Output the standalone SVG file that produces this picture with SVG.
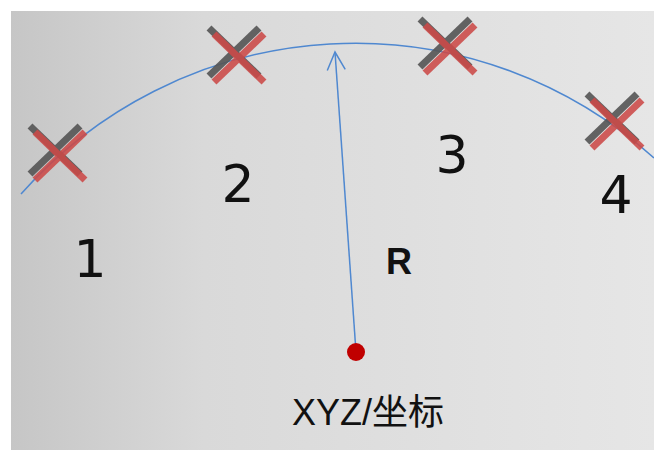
<svg xmlns="http://www.w3.org/2000/svg" width="654" height="451" viewBox="0 0 654 451">
  <defs>
    <linearGradient id="bg" x1="0" y1="0" x2="1" y2="0">
      <stop offset="0" stop-color="#c6c6c6"/>
      <stop offset="0.3" stop-color="#d9d9d9"/>
      <stop offset="1" stop-color="#e6e6e6"/>
    </linearGradient>
    <marker id="arrow" markerWidth="24" markerHeight="24" refX="20" refY="12" orient="auto" markerUnits="userSpaceOnUse">
      <path d="M2,3 L20,12 L2,21" fill="none" stroke="#4f88d0" stroke-width="1.5"/>
    </marker>
    <g id="cross">
      <g stroke="#555555" stroke-width="7" opacity="0.9">
        <line x1="-25" y1="-24" x2="25" y2="24"/>
        <line x1="-25" y1="24" x2="25" y2="-24"/>
      </g>
      <g stroke="#cc4a48" stroke-width="7" opacity="0.88" transform="translate(5,6)">
        <line x1="-25" y1="-24" x2="25" y2="24"/>
        <line x1="-25" y1="24" x2="25" y2="-24"/>
      </g>
    </g>
  </defs>
  <style>
    .num { font-family: "DejaVu Sans", "Liberation Sans", sans-serif; font-size: 52px; fill: #111111; text-anchor: middle; }
    .lbl { font-family: "Liberation Sans", "Noto Sans CJK SC", sans-serif; fill: #111111; text-anchor: middle; }
  </style>
  <rect x="0" y="0" width="654" height="451" fill="#ffffff"/>
  <rect x="11" y="11" width="643" height="439" fill="url(#bg)"/>

  <g id="connectors">
    <path d="M21,194 A446,446 0 0,1 654,158" fill="none" stroke="#4f88d0" stroke-width="1.5"/>
    <line x1="356" y1="352" x2="335" y2="52" stroke="#4f88d0" stroke-width="1.5" marker-end="url(#arrow)"/>
  </g>

  <g id="node1">
    <use href="#cross" x="55" y="150"/>
    <text class="num" x="90" y="277">1</text>
  </g>
  <g id="node2">
    <use href="#cross" x="234" y="52"/>
    <text class="num" x="238" y="202">2</text>
  </g>
  <g id="node3">
    <use href="#cross" x="445" y="43"/>
    <text class="num" x="452" y="173">3</text>
  </g>
  <g id="node4">
    <use href="#cross" x="612" y="118"/>
    <text class="num" x="616" y="213">4</text>
  </g>
  <g id="center">
    <ellipse cx="356" cy="352" rx="9" ry="9" fill="#c00000"/>
    <text class="lbl" x="399" y="274" font-size="36" font-weight="bold">R</text>
    <text class="lbl" x="368" y="425" font-size="36">XYZ/坐标</text>
  </g>
</svg>
